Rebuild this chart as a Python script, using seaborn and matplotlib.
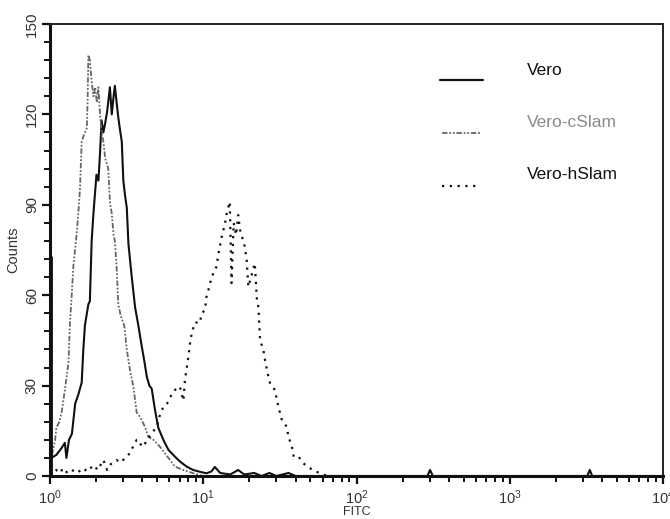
import matplotlib
matplotlib.use("Agg")
import matplotlib.pyplot as plt
from matplotlib.ticker import MultipleLocator, LogLocator, NullFormatter
import seaborn as sns

# ---------------- data ----------------
series_names = ["Vero", "Vero-cSlam", "Vero-hSlam"]

vero_x = [1.02, 1.1, 1.18, 1.25, 1.28, 1.33, 1.39, 1.46, 1.53, 1.61, 1.65, 1.69,
          1.78, 1.82, 1.87, 1.92, 2.01, 2.07, 2.12, 2.17, 2.23, 2.29, 2.36, 2.46,
          2.53, 2.6, 2.65, 2.72, 2.79, 2.86, 2.94, 3.01, 3.09, 3.17, 3.25, 3.4,
          3.59, 3.77, 3.97, 4.13, 4.28, 4.45, 4.61, 4.84, 5.09, 5.49, 5.92, 6.54,
          7.05, 7.8, 8.6, 9.5, 10.5, 11.3, 11.9, 12.9, 15.0, 16.9, 18.5, 21.5,
          24.0, 27.0, 30.0, 36.0, 40.0, 60.0, 150.0, 290.0, 302.0, 315.0, 800.0,
          3200.0, 3330.0, 3450.0, 10000.0]
vero_counts = [6, 7, 9, 11, 6, 12, 14, 24, 27, 31, 42, 50,
               57, 58, 78, 87, 100, 98, 107, 118, 114, 117, 121, 129,
               120, 126, 129.5, 124, 119, 115, 111, 98, 93, 89, 77, 67,
               56, 50, 43, 38, 33, 30, 29, 22, 16, 12, 8.7, 6.4,
               4.8, 3.1, 2, 1.4, 0.9, 1.5, 3, 1, 0.5, 2, 0.5, 1,
               0, 1, 0, 1, 0, 0, 0, 0, 2, 0, 0,
               0, 2, 0, 0]
vero_first_channel = 73

cslam_x = [1.03, 1.08, 1.1, 1.15, 1.19, 1.25, 1.32, 1.35, 1.39, 1.42, 1.49, 1.53,
           1.57, 1.61, 1.66, 1.74, 1.76, 1.78, 1.82, 1.87, 1.92, 1.97, 2.02, 2.07,
           2.12, 2.17, 2.23, 2.29, 2.4, 2.46, 2.53, 2.6, 2.65, 2.72, 2.79, 2.9,
           3.05, 3.17, 3.33, 3.5, 3.68, 3.86, 4.16, 4.38, 4.73, 5.22, 5.63, 6.07,
           6.54, 7.42, 8.5, 10.0, 10000.0]
cslam_counts = [7, 12, 16, 18, 21, 28.5, 37.5, 51, 61, 69.5, 80, 87,
                95.6, 111, 113, 115.5, 125, 139.7, 138, 131, 126, 129, 124, 129,
                120, 114, 111, 105.5, 102, 91, 87, 80, 78, 69.5, 57, 53,
                50, 42, 35, 29.6, 21, 19.7, 16.4, 13, 12, 9.7, 7.5, 5.3,
                3.1, 2, 1, 0, 0]

hslam_x = [1.0, 1.03, 1.1, 1.16, 1.22, 1.3, 1.39, 1.5, 1.65, 1.75, 1.92, 2.05,
           2.23, 2.36, 2.5, 2.72, 2.9, 3.09, 3.33, 3.5, 3.68, 3.77, 3.95, 4.06,
           4.3, 4.6, 4.97, 5.2, 5.49, 5.8, 6.07, 6.37, 6.87, 7.05, 7.2, 7.42,
           7.6, 8.0, 8.2, 8.42, 8.83, 9.5, 9.77, 10.25, 10.5, 10.8, 11.35, 12.2,
           12.6, 13.2, 13.9, 14.2, 14.9, 15.3, 15.8, 16.4, 16.9, 17.4, 18.7, 19.2,
           19.7, 20.5, 21.7, 22.4, 22.9, 23.5, 24.7, 25.3, 26.6, 27.3, 29.4, 30.1,
           30.9, 32.6, 35.0, 36.0, 37.9, 38.9, 41.9, 45.0, 49.5, 57.6, 65.0]
hslam_counts = [1, 0.5, 2, 1, 2.6, 1, 2, 1, 2.6, 1.5, 3.6, 2,
                5.3, 2, 4, 5.3, 4.5, 6, 7.6, 10, 12, 12, 10, 9.7,
                12, 14, 16.4, 20, 23, 24, 26, 28, 29.6, 29.6, 27.5, 25,
                32, 39.6, 44, 47.5, 51, 50.8, 54, 55, 59.5, 61.7, 66, 69.5,
                74, 79.4, 84, 87, 91, 64, 84, 80, 86.6, 81.6, 76, 71.7,
                62.8, 66, 70.6, 58.4, 56, 45, 41.8, 38.5, 33, 30.8, 28.5, 25.8,
                23, 18.6, 16.4, 13, 9.7, 6.4, 6.4, 4.2, 2.6, 0.9, 0]

y_major_ticks = [0, 30, 60, 90, 120, 150]

# ---------------- styling ----------------
sns.set_style("ticks")
plt.rcParams["font.family"] = ["Liberation Sans", "DejaVu Sans"]
plt.rcParams["mathtext.fontset"] = "custom"
plt.rcParams["mathtext.rm"] = "Liberation Sans"
plt.rcParams["mathtext.it"] = "Liberation Sans:italic"

fig = plt.figure(figsize=(6.7, 5.19), dpi=100)
ax = fig.add_axes([50 / 670, 1 - 476 / 519, 613 / 670, 452 / 519])

black = "#111111"
gray = "#666666"

sns.lineplot(x=vero_x, y=vero_counts, ax=ax, color=black, lw=1.5,
             estimator=None, sort=False)
sns.lineplot(x=cslam_x, y=cslam_counts, ax=ax, color=gray, lw=1.3,
             linestyle=(0, (3, 1, 1, 1, 1, 1)), estimator=None, sort=False)
sns.lineplot(x=hslam_x, y=hslam_counts, ax=ax, color=black, lw=1.6,
             linestyle=(0, (1, 2.5)), estimator=None, sort=False)
ax.vlines(1.0, 0, vero_first_channel, color=black, lw=3.5, zorder=5)

ax.set_xscale("log")
ax.set_xlim(1, 1e4)
ax.set_ylim(0, 150)
ax.yaxis.set_major_locator(MultipleLocator(30))
ax.yaxis.set_minor_locator(MultipleLocator(6))
ax.set_yticks(y_major_ticks)
ax.xaxis.set_major_locator(LogLocator(base=10, numticks=10))
ax.xaxis.set_minor_locator(LogLocator(base=10, subs=range(2, 10), numticks=100))
ax.xaxis.set_minor_formatter(NullFormatter())

for s in ["top", "right"]:
    ax.spines[s].set_linewidth(1.4)
    ax.spines[s].set_color("#222222")
for s in ["left", "bottom"]:
    ax.spines[s].set_linewidth(2.2)
    ax.spines[s].set_color(black)

ax.tick_params(axis="both", which="major", direction="out", length=6, width=1.6,
               color=black, labelcolor="#333333")
ax.tick_params(axis="y", which="major", labelsize=11, pad=2)
ax.tick_params(axis="x", which="major", labelsize=10.5, pad=3)
ax.tick_params(axis="both", which="minor", direction="out", length=4.5, width=1.4,
               color=black)
for lab in ax.get_yticklabels():
    lab.set_rotation(90)
    lab.set_va("center")
    lab.set_ha("right")

ax.set_ylabel("Counts", fontsize=10.5, color="#333333", labelpad=3)
ax.set_xlabel("FITC", fontsize=9, color="#333333", labelpad=-1)

# ---------------- legend (drawn manually, as in the reference) ----------------
tr = ax.transAxes
ax.plot([0.636, 0.706], [0.876, 0.876], color=black, lw=1.6, transform=tr)
ax.plot([0.640, 0.702], [0.759, 0.759], color=gray, lw=1.3,
        linestyle=(0, (3, 1, 1, 1, 1, 1)), transform=tr)
ax.plot([0.640, 0.698], [0.642, 0.642], color=black, lw=1.6,
        linestyle=(0, (1, 2.5)), transform=tr)
ax.text(0.778, 0.898, series_names[0], transform=tr, fontsize=12.5,
        color=black, va="center", ha="left")
ax.text(0.778, 0.783, series_names[1], transform=tr, fontsize=12.5,
        color="#8a8a8a", va="center", ha="left")
ax.text(0.778, 0.668, series_names[2], transform=tr, fontsize=12.5,
        color=black, va="center", ha="left")

fig.savefig("out.png", dpi=100)
